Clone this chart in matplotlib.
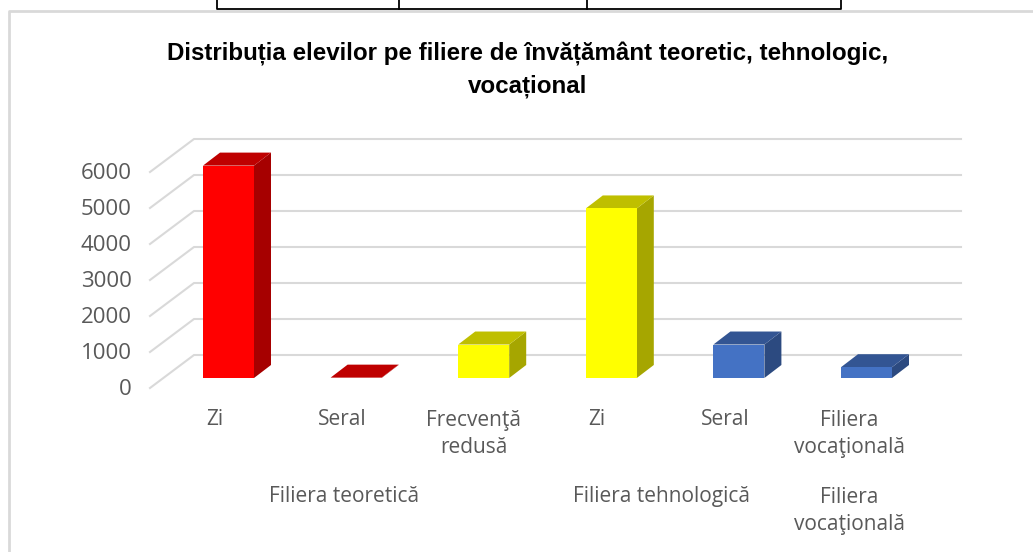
import matplotlib
matplotlib.use('Agg')
import matplotlib.pyplot as plt
from matplotlib.patches import Polygon, Rectangle

# valori
etichete = ['Zi', 'Seral', 'Frecvenţă\nredusă', 'Zi', 'Seral', 'Filiera\nvocaţională']
valori = [5900, 10, 930, 4710, 930, 300]
culori = ['#ff0000', '#c00000', '#ffff00', '#ffff00', '#4472c4', '#4472c4']
culori_sus = ['#bf0000', '#bf0000', '#bfbf00', '#bfbf00', '#335593', '#335593']
culori_lat = ['#a60000', '#a60000', '#a6a600', '#a6a600', '#2c4a80', '#2c4a80']
grupuri = ['Filiera teoretică', 'Filiera tehnologică', 'Filiera\nvocaţională']
grup_x = [0.905, 3.39, 4.863]
y_ticks = [0, 1000, 2000, 3000, 4000, 5000, 6000]
titlu = 'Distribuția elevilor pe filiere de învățământ teoretic, tehnologic,\nvocațional'

W, H = 1033, 552
PX = 127.6   # pixeli pe categorie
PY = 0.036   # pixeli pe unitate
fig = plt.figure(figsize=(W / 100, H / 100), dpi=100)
ax = fig.add_axes([0, 0, 1, 1])
ax.set_xlim(-228.5 / PX, (W - 228.5) / PX)
ax.set_ylim(-(H - 378) / PY, 378 / PY)
ax.axis('off')

# adancime 3D
dx_bar, dy_bar = 17 / PX, 13 / PY
w = 51 / PX
gri = '#d9d9d9'
x_st = (150 - 228.5) / PX
x_sp = (194 - 228.5) / PX
x_dr = (961 - 228.5) / PX
text_gri = '#595959'
# etichetele nu sunt chiar sub bare
decalaj = [-14, -14, -10, -14, -14, -17]

# pereti si grila
for t in y_ticks:
    ax.plot([x_st, x_sp, x_dr], [t - 10 / PY, t + 23 / PY, t + 23 / PY], color=gri, lw=1.5, zorder=1)
    ax.text(-0.76, t - 310, str(t), ha='right', va='center', fontsize=16,
            color=text_gri, family='Open Sans')

# bare
for i, v in enumerate(valori):
    x0, x1 = i - w / 2, i + w / 2
    ax.add_patch(Polygon([(x1, 0), (x1 + dx_bar, dy_bar), (x1 + dx_bar, v + dy_bar), (x1, v)],
                         fc=culori_lat[i], ec='none', zorder=3))
    ax.add_patch(Polygon([(x0, v), (x1, v), (x1 + dx_bar, v + dy_bar), (x0 + dx_bar, v + dy_bar)],
                         fc=culori_sus[i], ec='none', zorder=3))
    ax.add_patch(Rectangle((x0, 0), w, v, fc=culori[i], ec='none', zorder=4))
    ax.text(i + decalaj[i] / PX, -1165 if '\n' not in etichete[i] else -1555, etichete[i], ha='center', va='center',
            fontsize=15, color=text_gri, family='Open Sans', linespacing=1.4)

for g, gx in zip(grupuri, grup_x):
    ax.text(gx, -3305 if '\n' not in g else -3695, g, ha='center', va='center', fontsize=15,
            color=text_gri, family='Open Sans', linespacing=1.4)

ax.text((528 - 228.5) / PX, (378 - 70) / PY, titlu, ha='center', va='center', fontsize=17.4,
        fontweight='bold', family='Liberation Sans', color='black', linespacing=1.5)

# chenarul graficului si tabelul taiat de sus
fig.add_artist(plt.Line2D([8.5 / W, 8.5 / W, 1], [0, 1 - 11 / H, 1 - 11 / H], color=gri, lw=2))
fig.add_artist(plt.Line2D([217 / W, 217 / W, 841 / W, 841 / W], [1, 1 - 9 / H, 1 - 9 / H, 1], color='black', lw=1.3))
for xp in (399, 587):
    fig.add_artist(plt.Line2D([xp / W, xp / W], [1, 1 - 9 / H], color='black', lw=1.3))

fig.savefig('out.png', dpi=100)
